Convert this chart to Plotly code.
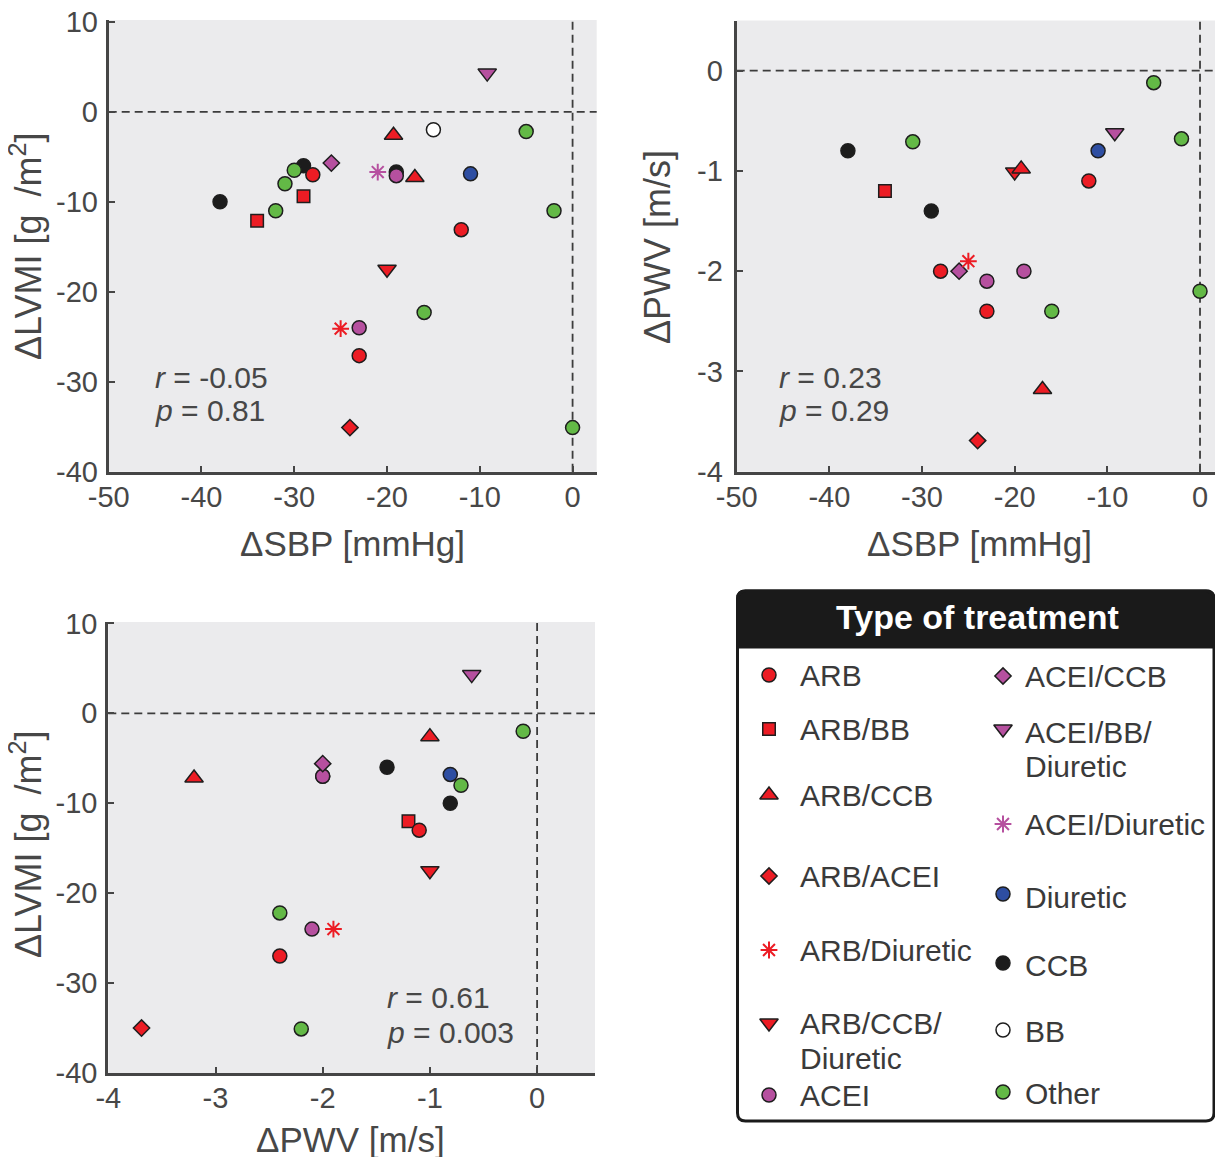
import plotly.graph_objects as go

PAGE_W, PAGE_H = 1223, 1157
OFF = 8  # body margin of the html page
W, H = PAGE_W - OFF, PAGE_H - OFF
FONT = "Liberation Sans, Arial, Helvetica, sans-serif"
AX = "#454545"
TXT = "#474747"

# ---------------- data ----------------
# Panel A: change in SBP vs change in LVMI
P1_GROUP = ["CCB", "CCB", "CCB", "Diuretic", "BB",
            "ARB", "ARB", "ARB", "ARB/BB", "ARB/BB",
            "ARB/CCB", "ARB/CCB", "ARB/ACEI", "ARB/Diuretic", "ARB/CCB/Diuretic",
            "ACEI", "ACEI", "ACEI/CCB", "ACEI/BB/Diuretic", "ACEI/Diuretic",
            "Other", "Other", "Other", "Other", "Other", "Other", "Other"]
P1_SBP = [-38, -29, -19, -11, -15,
          -28, -12, -23, -34, -29,
          -19.3, -17, -24, -25, -20,
          -19, -23, -26, -9.2, -21,
          -32, -31, -30, -5, -2, -16, 0]
P1_LVMI = [-10.0, -6.0, -6.7, -6.9, -2.0,
           -7.0, -13.1, -27.1, -12.1, -9.4,
           -2.6, -7.3, -35.1, -24.1, -17.5,
           -7.1, -24.0, -5.7, 4.3, -6.7,
           -11.0, -8.0, -6.5, -2.2, -11.0, -22.3, -35.1]

# Panel B: change in SBP vs change in PWV
P2_GROUP = ["CCB", "CCB", "Diuretic",
            "ARB", "ARB", "ARB", "ARB/BB",
            "ARB/CCB", "ARB/CCB", "ARB/ACEI", "ARB/Diuretic", "ARB/CCB/Diuretic",
            "ACEI", "ACEI", "ACEI/CCB", "ACEI/BB/Diuretic",
            "Other", "Other", "Other", "Other", "Other"]
P2_SBP = [-38, -29, -11,
          -28, -12, -23, -34,
          -19.3, -17, -24, -25, -20,
          -23, -19, -26, -9.2,
          -31, -5, -2, 0, -16]
P2_PWV = [-0.80, -1.40, -0.80,
          -2.00, -1.10, -2.40, -1.20,
          -0.98, -3.18, -3.69, -1.90, -1.01,
          -2.10, -2.00, -2.00, -0.62,
          -0.71, -0.12, -0.68, -2.20, -2.40]

# Panel C: change in PWV vs change in LVMI
P3_GROUP = ["CCB", "CCB", "Diuretic",
            "ARB", "ARB", "ARB", "ARB/BB",
            "ARB/CCB", "ARB/CCB", "ARB/ACEI", "ARB/Diuretic", "ARB/CCB/Diuretic",
            "ACEI", "ACEI", "ACEI/CCB", "ACEI/BB/Diuretic",
            "Other", "Other", "Other", "Other"]
P3_PWV = [-1.40, -0.81, -0.81,
          -2.00, -1.10, -2.40, -1.20,
          -3.20, -1.00, -3.69, -1.90, -1.00,
          -2.10, -2.00, -2.00, -0.61,
          -0.13, -0.71, -2.40, -2.20]
P3_LVMI = [-6.0, -10.0, -6.8,
           -7.0, -13.0, -27.0, -12.0,
           -7.2, -2.6, -35.0, -24.0, -17.5,
           -24.0, -7.0, -5.6, 4.3,
           -2.0, -8.0, -22.2, -35.1]

STATS = [("-0.05", "0.81"), ("0.23", "0.29"), ("0.61", "0.003")]

X1_TICKS = [-50, -40, -30, -20, -10, 0]
Y1_TICKS = [-40, -30, -20, -10, 0, 10]
Y2_TICKS = [-4, -3, -2, -1, 0]
X3_TICKS = [-4, -3, -2, -1, 0]

# ---------------- styles ----------------
RED = "#ec1c24"
PUR = "#b6509f"
BLU = "#2e4ea2"
GRN = "#63b946"
BLK = "#1c1c1c"
WHT = "#ffffff"
EDGE = "#1e1e1e"

STYLE = {
    "ARB": ("circle", RED, 14),
    "ARB/BB": ("square", RED, 12.5),
    "ARB/CCB": ("triangle-up", RED, 16),
    "ARB/ACEI": ("diamond", RED, 12.5),
    "ARB/Diuretic": ("asterisk-open", RED, 14),
    "ARB/CCB/Diuretic": ("triangle-down", RED, 16),
    "ACEI": ("circle", PUR, 14),
    "ACEI/CCB": ("diamond", PUR, 12.5),
    "ACEI/BB/Diuretic": ("triangle-down", PUR, 16),
    "ACEI/Diuretic": ("asterisk-open", PUR, 14),
    "Diuretic": ("circle", BLU, 14),
    "CCB": ("circle", BLK, 14),
    "BB": ("circle", WHT, 14),
    "Other": ("circle", GRN, 14),
}
DRAW_ORDER = ["CCB", "Diuretic", "BB", "ARB/BB", "ARB", "ARB/CCB/Diuretic", "ARB/CCB",
              "ACEI", "ACEI/CCB", "ARB/ACEI", "ARB/Diuretic", "ACEI/BB/Diuretic",
              "ACEI/Diuretic", "Other"]


def marker_for(group, scale=1.0):
    sym, col, size = STYLE[group]
    if sym.startswith("asterisk"):
        return dict(symbol=sym, color=col, size=size * scale, line=dict(color=col, width=2))
    return dict(symbol=sym, color=col, size=size * scale, line=dict(color=EDGE, width=1.5))


def fx(p):  # page pixel -> paper fraction (x)
    return max(0.0, min(1.0, (p - OFF) / W))


def fy(p):  # page pixel -> paper fraction (y)
    return max(0.0, min(1.0, 1 - (p - OFF) / H))


fig = go.Figure()

panels = [(P1_GROUP, P1_SBP, P1_LVMI, "x", "y"),
          (P2_GROUP, P2_SBP, P2_PWV, "x2", "y2"),
          (P3_GROUP, P3_PWV, P3_LVMI, "x3", "y3")]

for groups, xs, ys, xa, ya in panels:
    for g in DRAW_ORDER:
        idx = [i for i, gg in enumerate(groups) if gg == g]
        if not idx:
            continue
        fig.add_trace(go.Scatter(
            x=[xs[i] for i in idx], y=[ys[i] for i in idx],
            mode="markers", marker=marker_for(g), xaxis=xa, yaxis=ya,
            showlegend=False, hoverinfo="skip"))

# ---------------- custom legend (page-pixel overlay axis) ----------------
LEG_LEFT = [  # (group, marker_y, text lines with y)
    ("ARB", 675, [("ARB", 675)]),
    ("ARB/BB", 729, [("ARB/BB", 729)]),
    ("ARB/CCB", 795, [("ARB/CCB", 795)]),
    ("ARB/ACEI", 876, [("ARB/ACEI", 876)]),
    ("ARB/Diuretic", 950, [("ARB/Diuretic", 950)]),
    ("ARB/CCB/Diuretic", 1023, [("ARB/CCB/", 1023.5), ("Diuretic", 1058)]),
    ("ACEI", 1095, [("ACEI", 1095.5)]),
]
LEG_RIGHT = [
    ("ACEI/CCB", 676, [("ACEI/CCB", 676)]),
    ("ACEI/BB/Diuretic", 729, [("ACEI/BB/", 732.5), ("Diuretic", 766.5)]),
    ("ACEI/Diuretic", 824, [("ACEI/Diuretic", 824)]),
    ("Diuretic", 894, [("Diuretic", 897)]),
    ("CCB", 963, [("CCB", 965)]),
    ("BB", 1030, [("BB", 1031)]),
    ("Other", 1092, [("Other", 1093)]),
]

annotations = []
for col_items, mx, tx in [(LEG_LEFT, 769, 798), (LEG_RIGHT, 1003, 1023)]:
    for g, my, lines in col_items:
        fig.add_trace(go.Scatter(x=[mx], y=[my], mode="markers", marker=marker_for(g),
                                 xaxis="x4", yaxis="y4", showlegend=False, hoverinfo="skip"))
        for txt, ty in lines:
            annotations.append(dict(x=tx, y=ty, xref="x4", yref="y4", text=txt, showarrow=False,
                                    xanchor="left", yanchor="middle",
                                    font=dict(family=FONT, size=30, color="#3a3a3a")))

annotations.append(dict(x=977, y=617, xref="x4", yref="y4", text="<b>Type of treatment</b>",
                        showarrow=False, xanchor="center", yanchor="middle",
                        font=dict(family=FONT, size=34, color="white")))

# stats annotations
for (r, p), (lx, ry, py) in zip(STATS, [(153, 377, 410), (777, 377, 410), (385, 997, 1032)]):
    annotations.append(dict(x=lx, y=ry, xref="x4", yref="y4", text=f"<i>r</i> = {r}", showarrow=False,
                            xanchor="left", yanchor="middle", font=dict(family=FONT, size=30, color=TXT)))
    annotations.append(dict(x=lx, y=py, xref="x4", yref="y4", text=f"<i>p</i> = {p}", showarrow=False,
                            xanchor="left", yanchor="middle", font=dict(family=FONT, size=30, color=TXT)))

# axis titles
LVMI_T = "ΔLVMI [g\u2002/m<sup>2</sup>]"
for txt, x, y, ang in [("ΔSBP [mmHg]", 352, 543, 0), ("ΔSBP [mmHg]", 979, 543, 0),
                       ("ΔPWV [m/s]", 350, 1139, 0),
                       (LVMI_T, 26, 247, -90), ("ΔPWV [m/s]", 657, 247, -90),
                       (LVMI_T, 26, 845, -90)]:
    annotations.append(dict(x=x, y=y, xref="x4", yref="y4", text=txt, showarrow=False,
                            xanchor="center", yanchor="middle", textangle=ang,
                            font=dict(family=FONT, size=35 if ang == 0 else 36, color=TXT)))

# ---------------- shapes ----------------
shapes = []
for xa, ya in [("x", "y"), ("x2", "y2"), ("x3", "y3")]:
    shapes.append(dict(type="rect", xref=f"{xa} domain", yref=f"{ya} domain", x0=0, x1=1, y0=0, y1=1,
                       fillcolor="#ebebed", line=dict(width=0), layer="below"))
    shapes.append(dict(type="line", xref=f"{xa} domain", yref=ya, x0=0, x1=1, y0=0, y1=0,
                       line=dict(color="#3c3c3c", width=1.8, dash="8px,5px"), layer="below"))
    shapes.append(dict(type="line", xref=xa, yref=f"{ya} domain", x0=0, x1=0, y0=0, y1=1,
                       line=dict(color="#3c3c3c", width=1.8, dash="8px,5px"), layer="below"))


def rounded(x0, y0, x1, y1, r, top_only=False):
    if top_only:
        return (f"M{x0},{y1} L{x0},{y0 + r} Q{x0},{y0} {x0 + r},{y0} L{x1 - r},{y0} "
                f"Q{x1},{y0} {x1},{y0 + r} L{x1},{y1} Z")
    return (f"M{x0 + r},{y0} L{x1 - r},{y0} Q{x1},{y0} {x1},{y0 + r} L{x1},{y1 - r} "
            f"Q{x1},{y1} {x1 - r},{y1} L{x0 + r},{y1} Q{x0},{y1} {x0},{y1 - r} "
            f"L{x0},{y0 + r} Q{x0},{y0} {x0 + r},{y0} Z")


BOX_R = 1214
shapes.append(dict(type="path", xref="x4", yref="y4", path=rounded(737.5, 591, BOX_R, 647, 8, True),
                   fillcolor="#1a1a1a", line=dict(color="#1a1a1a", width=3)))
shapes.append(dict(type="path", xref="x4", yref="y4", path=rounded(737.5, 591, BOX_R, 1121, 8),
                   fillcolor="rgba(0,0,0,0)", line=dict(color="#1a1a1a", width=3)))

axis_common = dict(showline=True, linecolor=AX, linewidth=3, ticks="inside", ticklen=6,
                   tickwidth=1.5, tickcolor=AX, showgrid=False, zeroline=False, mirror=False,
                   tickfont=dict(family=FONT, size=29, color=TXT), ticklabeloverflow="allow",
                   fixedrange=True, automargin=False)


def ticks(vals):
    return dict(tickmode="array", tickvals=vals, ticktext=[str(v) for v in vals])


XS = -3  # x tick label standoff
YS = 2   # y tick label standoff

fig.update_layout(
    template="none",
    width=W, height=H, autosize=False,
    margin=dict(l=0, r=0, t=0, b=0, pad=0),
    paper_bgcolor="white", plot_bgcolor="rgba(0,0,0,0)",
    showlegend=False,
    xaxis=dict(domain=[fx(108.7), fx(596.7)], range=[-50, 2.6], anchor="y",
               ticklabelstandoff=XS, **ticks(X1_TICKS), **axis_common),
    yaxis=dict(domain=[fy(471.7), fy(20)], range=[-40, 10.2], anchor="x",
               ticklabelstandoff=YS, **ticks(Y1_TICKS), **axis_common),
    xaxis2=dict(domain=[fx(736.7), fx(1223)], range=[-50, 2.48], anchor="y2",
                ticklabelstandoff=XS, **ticks(X1_TICKS), **axis_common),
    yaxis2=dict(domain=[fy(471.7), fy(20.5)], range=[-4, 0.5], anchor="x2",
                ticklabelstandoff=YS + 3, **ticks(Y2_TICKS), **axis_common),
    xaxis3=dict(domain=[fx(108.3), fx(595)], range=[-4, 0.54], anchor="y3",
                ticklabelstandoff=XS, **ticks(X3_TICKS), **axis_common),
    yaxis3=dict(domain=[fy(1073), fy(622)], range=[-40, 10.15], anchor="x3",
                ticklabelstandoff=YS, **ticks(Y1_TICKS), **axis_common),
    xaxis4=dict(domain=[0, 1], range=[OFF, W + OFF], anchor="y4", visible=False,
                fixedrange=True, automargin=False),
    yaxis4=dict(domain=[0, 1], range=[H + OFF, OFF], anchor="x4", visible=False,
                fixedrange=True, automargin=False),
    shapes=shapes,
    annotations=annotations,
)

fig.write_html("out.html")
